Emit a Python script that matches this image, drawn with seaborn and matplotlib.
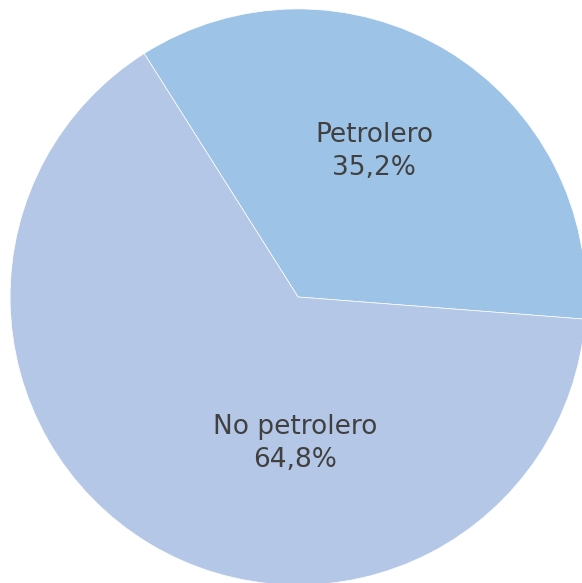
import numpy as np
import matplotlib
matplotlib.use("Agg")
import matplotlib.pyplot as plt
import seaborn as sns

sns.set_theme(style="white")
plt.rcParams['font.family'] = ['DejaVu Sans']

categories = ["Petrolero", "No petrolero"]
values = [35.2, 64.8]
pct_labels = ["35,2%", "64,8%"]
colors = ["#9DC3E6", "#B4C7E7"]

fig = plt.figure(figsize=(5.82, 5.83), dpi=100)
ax = fig.add_axes([0, 0, 1, 1])
wedges, _ = ax.pie(values, colors=colors, startangle=122.3, counterclock=False,
                   radius=1.0, center=(0, 0),
                   wedgeprops=dict(edgecolor="white", linewidth=0.5))
ax.set_xlim(-1.035, 0.986)
ax.set_ylim(-0.993, 1.031)
ax.set_aspect("auto")
ax.axis("off")

# label positions (as fractions of radius)
label_pos = [(0.265, 0.505), (-0.01, -0.51)]
for (x, y), cat, pct in zip(label_pos, categories, pct_labels):
    ax.text(x, y, f"{cat}\n{pct}", ha="center", va="center", fontsize=19,
            color="#404040", linespacing=1.35)

fig.savefig("out.png", dpi=100)
